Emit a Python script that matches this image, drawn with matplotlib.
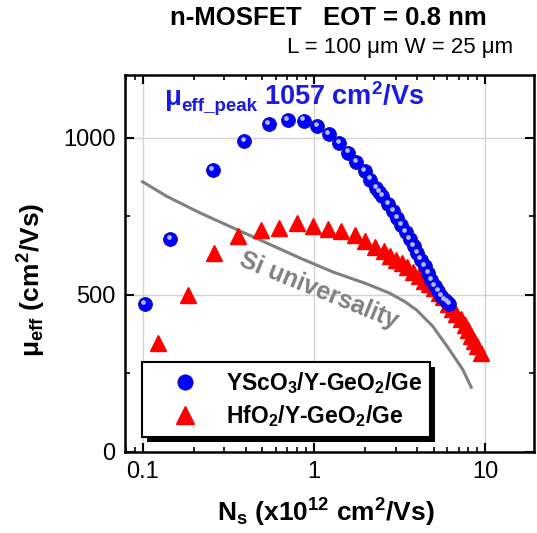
import matplotlib
matplotlib.use('Agg')
import matplotlib.pyplot as plt
from matplotlib import transforms
from matplotlib.patches import Rectangle
from matplotlib.lines import Line2D
from matplotlib.ticker import FixedLocator, MultipleLocator, LogLocator, NullFormatter

plt.rcParams['font.family'] = ['Liberation Sans', 'DejaVu Sans']
plt.rcParams['mathtext.fontset'] = 'custom'
plt.rcParams['mathtext.rm'] = 'Liberation Sans'
plt.rcParams['mathtext.bf'] = 'Liberation Sans:bold'
plt.rcParams['mathtext.it'] = 'Liberation Sans:italic'
plt.rcParams['mathtext.default'] = 'bf'

# YScO3/Y-GeO2/Ge
blue_ns = [0.103, 0.145, 0.257, 0.391, 0.544, 0.705, 0.875, 1.045, 1.22, 1.41,
           1.59, 1.77, 1.98, 2.14, 2.32, 2.41, 2.51, 2.71, 2.90, 3.08, 3.25,
           3.44, 3.63, 3.83, 4.02, 4.21, 4.44, 4.64, 4.86, 5.08, 5.31, 5.55,
           5.80, 6.00, 6.15]
blue_mu = [471, 676, 897, 989, 1045, 1057, 1055, 1037, 1011, 982,
           953, 923, 895, 867, 840, 827, 814, 790, 766, 745, 723,
           699, 677, 655, 633, 612, 590, 569, 548, 528, 511, 496,
           484, 476, 470]

# HfO2/Y-GeO2/Ge
red_ns = [0.123, 0.185, 0.262, 0.362, 0.49, 0.628, 0.80, 0.99, 1.21, 1.45,
          1.73, 1.98, 2.27, 2.57, 2.80, 3.03, 3.27, 3.52, 3.80, 4.10, 4.40,
          4.70, 5.00, 5.35, 5.70, 6.10, 6.45, 6.80, 7.20, 7.60, 7.95, 8.30,
          8.65, 9.00, 9.50]
red_mu = [347, 500, 634, 688, 707, 713, 727, 718, 710, 702,
          691, 670, 652, 638, 625, 612, 600, 588, 574, 559, 545,
          533, 521, 507, 492, 472, 456, 440, 422, 405, 387, 368,
          352, 336, 315]

# Si universal mobility curve
si_ns = [0.1, 0.138, 0.216, 0.338, 0.53, 0.83, 1.30, 2.03, 2.77, 3.40,
         3.97, 4.96, 6.21, 7.42, 8.30]
si_mu = [860, 814, 761, 713, 665, 617, 572, 535, 505, 478,
         452, 399, 324, 261, 205]

labels = ['YScO$_3$/Y-GeO$_2$/Ge', 'HfO$_2$/Y-GeO$_2$/Ge']
x_ticks = [0.1, 1, 10]
x_ticklabels = ['0.1', '1', '10']

W, H = 537, 533
def fx(px):
  return px / W
def fy(py):
  return 1 - py / H

fig = plt.figure(figsize=(W / 100, H / 100), dpi=100)
ax = fig.add_axes([fx(125), fy(451.7), (534 - 125) / W, (451.7 - 75) / H])

ax.set_xscale('log')
ax.set_xlim(0.079, 19.3)
ax.set_ylim(0, 1200)
ax.xaxis.set_major_locator(FixedLocator(x_ticks))
ax.set_xticklabels(x_ticklabels)
ax.xaxis.set_minor_locator(LogLocator(base=10, subs=range(2, 10)))
ax.xaxis.set_minor_formatter(NullFormatter())
ax.yaxis.set_major_locator(MultipleLocator(500))
ax.yaxis.set_minor_locator(MultipleLocator(250))
ax.tick_params(which='both', direction='in', top=True, right=True, labelsize=17)
ax.tick_params(which='major', length=6.5, width=1.5, pad=7)
ax.tick_params(which='minor', length=3.5, width=1.2)
for s in ax.spines.values():
  s.set_linewidth(1.8)
ax.grid(True, which='major', color='#d3d3d3', lw=1)
ax.set_axisbelow(True)

#
ax.plot(si_ns, si_mu, color='#808080', lw=2.2, zorder=2)
ax.plot(red_ns, red_mu, ls='none', marker='^', ms=12, color='#ff0000', mec='#ff0000', zorder=3)
ax.plot(blue_ns, blue_mu, ls='none', marker='o', ms=10, mfc='#0000ff', mec='#1010b0', mew=0.6, zorder=4)
hl = transforms.offset_copy(ax.transData, fig=fig, x=-1.0, y=1.5, units='points')
ax.plot(blue_ns, blue_mu, ls='none', marker='o', ms=3.4, color='#b4bcff', mew=0, transform=hl, zorder=4.5)

ax.text(1.07, 514, 'Si universality', rotation=-22, rotation_mode='anchor', color='#808080',
        fontsize=18, weight='bold', ha='center', va='center', zorder=2.5)

#
hb = Line2D([], [], ls='none', marker='o', ms=11, mfc='#0000ff', mec='#1010b0', mew=0.6)
hr = Line2D([], [], ls='none', marker='^', ms=13, color='#ff0000')
leg = ax.legend([hb, hr], labels, loc='lower left', bbox_to_anchor=(0.042, 0.039),
                frameon=True, fancybox=False, edgecolor='black', framealpha=1,
                prop={'weight': 'bold', 'size': 16.5}, handlelength=3.0, handletextpad=0.3,
                borderpad=0.35, labelspacing=0.3, borderaxespad=0)
leg.get_frame().set_linewidth(1.5)
leg.set_zorder(6)

# texts
blue_txt = '#1a1ae6'
fig.text(fx(328), fy(18), 'n-MOSFET   EOT = 0.8 nm', ha='center', va='center', fontsize=18.5, weight='bold')
fig.text(fx(513), fy(47), 'L = 100 \u03bcm W = 25 \u03bcm', ha='right', va='center', fontsize=16)
fig.text(fx(165), fy(105), '\u03bc', color=blue_txt, fontsize=20, weight='bold', va='baseline')
fig.text(fx(181), fy(111), 'eff_peak', color=blue_txt, fontsize=13.5, weight='bold', va='baseline')
fig.text(fx(264), fy(105), '1057 cm$^2$/Vs', color=blue_txt, fontsize=19.5, weight='bold', va='baseline')
fig.text(fx(32), fy(280), '\u03bc$_{eff}$ (cm$^2$/Vs)', rotation=90, ha='center', va='center',
         fontsize=19, weight='bold')
fig.text(fx(326), fy(513), 'N$_s$ (x10$^{12}$ cm$^2$/Vs)', ha='center', va='center',
         fontsize=19, weight='bold')

# legend shadow
fig.canvas.draw()
bb = leg.get_window_extent()
shadow = Rectangle((bb.x0 + 5, bb.y0 - 5), bb.width, bb.height, facecolor='black',
                   edgecolor='none', transform=transforms.IdentityTransform(), zorder=5.9, clip_on=False)
ax.add_patch(shadow)

fig.savefig('out.png', dpi=100)
